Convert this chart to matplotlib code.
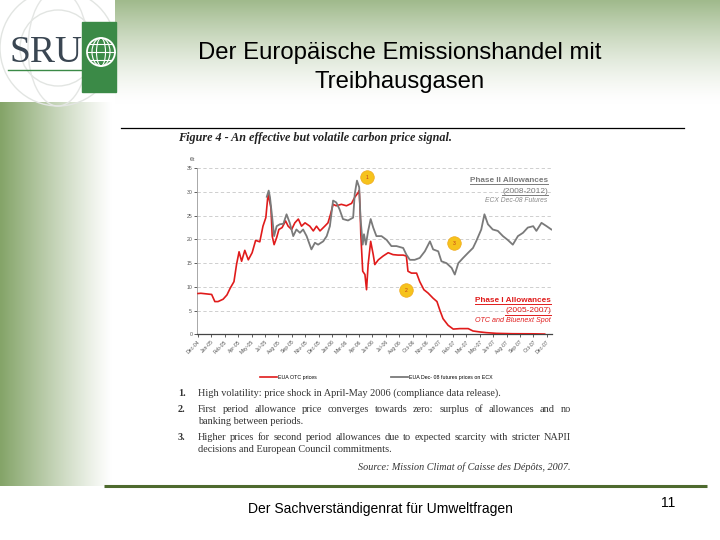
import numpy as np
import pandas as pd
import matplotlib
matplotlib.use("Agg")
import matplotlib.pyplot as plt
import matplotlib.dates as mdates
from matplotlib.patches import Rectangle, Circle, Ellipse

# ---------------- data ----------------
red_dates = ["2004-12-01","2004-12-10","2005-01-13","2005-01-23","2005-02-02","2005-02-18","2005-03-02",
             "2005-03-12","2005-03-24","2005-04-01","2005-04-09","2005-04-17","2005-04-27","2005-05-08",
             "2005-05-20","2005-05-31","2005-06-13","2005-06-23","2005-07-02","2005-07-09","2005-07-18",
             "2005-07-22","2005-07-28","2005-08-05","2005-08-12","2005-08-22","2005-09-02","2005-09-10",
             "2005-09-21","2005-10-01","2005-10-12","2005-10-22","2005-11-02","2005-11-17","2005-11-28",
             "2005-12-08","2005-12-19","2006-01-03","2006-01-13","2006-01-21","2006-01-29","2006-02-08",
             "2006-02-24","2006-03-12","2006-03-28","2006-04-07","2006-04-18","2006-04-21","2006-04-24",
             "2006-04-26","2006-05-02","2006-05-09","2006-05-14","2006-05-19","2006-05-27","2006-06-04",
             "2006-06-09","2006-06-20","2006-07-05","2006-07-21","2006-08-05","2006-08-21","2006-09-06",
             "2006-09-16","2006-09-21","2006-10-02","2006-10-18","2006-10-28","2006-11-10","2006-11-23",
             "2006-12-09","2006-12-21","2006-12-30","2007-01-09","2007-01-25","2007-02-10","2007-03-03",
             "2007-03-29","2007-04-13","2007-05-04","2007-05-25","2007-06-25","2007-08-16","2007-10-19",
             "2007-11-24"]
red_values = [8.6, 8.65, 8.4, 6.9, 6.9, 7.4, 8.3, 9.7, 11.1, 14.7, 17.4, 15.4, 17.7, 15.7, 17.2, 19.8,
              19.5, 22.8, 24.6, 29.6, 26.7, 20.7, 18.9, 20.4, 22.1, 22.5, 23.9, 22.8, 22.1, 23.5, 24.3,
              22.8, 23.5, 22.8, 21.8, 22.8, 21.8, 22.8, 23.5, 25.3, 27.4, 27.1, 27.4, 27.1, 27.6, 28.9,
              29.9, 30.3, 26.0, 21.1, 13.3, 12.6, 9.4, 14.7, 19.6, 16.8, 14.7, 15.7, 16.5, 17.2, 16.8,
              16.7, 16.7, 16.5, 13.3, 12.9, 12.9, 11.1, 9.4, 8.7, 7.6, 6.9, 5.1, 3.3, 1.9, 1.1, 1.2,
              1.2, 0.7, 0.5, 0.35, 0.2, 0.12, 0.1, 0.05]

grey_dates = ["2005-07-05","2005-07-11","2005-07-15","2005-07-22","2005-07-28","2005-08-05","2005-08-15",
              "2005-08-26","2005-09-05","2005-09-15","2005-09-26","2005-10-06","2005-10-17","2005-10-27",
              "2005-11-07","2005-11-22","2005-12-03","2005-12-13","2005-12-29","2006-01-09","2006-01-19",
              "2006-01-29","2006-02-08","2006-02-18","2006-03-01","2006-03-17","2006-04-02","2006-04-07",
              "2006-04-14","2006-04-21","2006-04-25","2006-05-02","2006-05-06","2006-05-12","2006-05-19",
              "2006-05-27","2006-06-04","2006-06-14","2006-06-30","2006-07-16","2006-07-31","2006-08-16",
              "2006-09-06","2006-09-16","2006-09-27","2006-10-12","2006-10-28","2006-11-13","2006-11-29",
              "2006-12-09","2006-12-25","2007-01-04","2007-01-20","2007-02-05","2007-02-15","2007-02-26",
              "2007-03-13","2007-03-29","2007-04-13","2007-04-23","2007-05-09","2007-05-19","2007-05-30",
              "2007-06-14","2007-06-30","2007-07-16","2007-07-31","2007-08-16","2007-09-01","2007-09-17",
              "2007-10-02","2007-10-19","2007-10-29","2007-11-14","2007-11-30","2007-12-15"]
grey_values = [29.0, 30.3, 28.9, 24.6, 20.7, 22.8, 23.2, 23.3, 25.3, 23.5, 20.7, 22.1, 21.4, 22.1, 20.7,
               17.9, 19.3, 18.9, 19.6, 20.7, 22.8, 28.2, 27.8, 26.4, 24.3, 24.0, 24.6, 29.6, 32.4, 31.0,
               24.6, 18.9, 21.1, 18.9, 21.8, 24.3, 22.5, 20.7, 20.7, 19.9, 18.6, 18.6, 18.2, 16.8, 15.7,
               15.7, 16.1, 17.5, 19.6, 17.9, 17.5, 15.4, 15.0, 14.0, 12.6, 15.0, 16.1, 17.2, 18.2, 19.6,
               22.1, 25.3, 23.2, 22.1, 21.8, 20.7, 19.9, 18.9, 20.7, 21.4, 22.5, 22.8, 21.8, 23.5, 22.8,
               22.1]

tick_labels = ["Dec-04","Jan-05","Feb-05","Apr-05","May-05","Jul-05","Aug-05","Sep-05","Nov-05",
               "Dec-05","Jan-06","Mar-06","Apr-06","Jun-06","Jul-06","Aug-06","Oct-06","Nov-06",
               "Jan-07","Feb-07","Mar-07","May-07","Jun-07","Aug-07","Sep-07","Oct-07","Dec-07"]
y_ticks = [0, 5, 10, 15, 20, 25, 30, 35]

marker_labels = ["1", "2", "3"]
marker_dates = ["2006-05-15", "2006-09-14", "2007-02-12"]
marker_values = [33.1, 9.3, 19.2]

series_names = ["EUA OTC prices", "EUA Dec- 08 futures prices on ECX"]

slide_title = ["Der Europäische Emissionshandel mit", "Treibhausgasen"]
figure_title = "Figure 4 - An effective but volatile carbon price signal."
notes = [
    ("1.", ["High volatility: price shock in April-May 2006 (compliance data release)."]),
    ("2.", ["First period allowance price converges towards zero: surplus of allowances and no",
            "banking between periods."]),
    ("3.", ["Higher prices for second period allowances due to expected scarcity with stricter NAPII",
            "decisions and European Council commitments."]),
]
source_text = "Source: Mission Climat of Caisse des Dépôts, 2007."
footer_text = "Der Sachverständigenrat für Umweltfragen"
page_number = "11"

RED = "#e01b1b"
GREY = "#7a7a7a"
GREEN_DARK = "#4e6a2e"
LOGO_GREEN = "#3b8a47"

# ---------------- figure ----------------
fig = plt.figure(figsize=(7.2, 5.4), dpi=100)
bg = fig.add_axes([0, 0, 1, 1])
bg.set_xlim(0, 720)
bg.set_ylim(540, 0)
bg.axis("off")
bg.set_zorder(0)

# top header gradient
n = 120
t = np.linspace(0, 1, n)[:, None]
top_col = np.array([160, 186, 140]) / 255.0
a = (1 - t) ** 1.4
grad = a[..., None] * top_col + (1 - a[..., None]) * 1.0
grad = np.repeat(grad, 2, axis=1)
bg.imshow(grad, extent=(115, 720, 104, 0), origin="upper", aspect="auto", zorder=0)

# left band gradient
tx = np.linspace(0, 1, n)[None, :]
left_col = np.array([132, 164, 104]) / 255.0
ax_ = (1 - tx) ** 1.1
gradl = ax_[..., None] * left_col + (1 - ax_[..., None]) * 1.0
gradl = np.repeat(gradl, 2, axis=0)
bg.imshow(gradl, extent=(0, 112, 486, 102), origin="upper", aspect="auto", zorder=0)

# logo area watermark arcs
for r in (38, 58):
    bg.add_patch(Circle((58, 48), r, fill=False, ec="#e2e5e2", lw=1.0, zorder=1))
bg.add_patch(Ellipse((58, 48), 60, 116, fill=False, ec="#e4e6e4", lw=1.0, zorder=1))

# logo: SRU text, green box with globe
bg.text(9, 62, "SRU", fontsize=27, family="Liberation Serif", color="#3a4652",
        ha="left", va="baseline", zorder=3)
bg.plot([8, 82], [70, 70], color=LOGO_GREEN, lw=1.0, zorder=3)
bg.add_patch(Rectangle((82, 22), 34, 70, color=LOGO_GREEN, zorder=3))
gc = (101, 52)
bg.add_patch(Circle(gc, 14, fill=False, ec="white", lw=1.3, zorder=4))
for w in (9, 18):
    bg.add_patch(Ellipse(gc, w, 28, fill=False, ec="white", lw=0.8, zorder=4))
for dy in (-8, 0, 8):
    half = np.sqrt(14 ** 2 - dy ** 2)
    bg.plot([gc[0] - half, gc[0] + half], [gc[1] + dy, gc[1] + dy], color="white", lw=0.8, zorder=4)

# slide title
bg.text(400, 53, slide_title[0], fontsize=17.2, family="Liberation Sans", color="black",
        ha="center", va="center", zorder=3)
bg.text(400, 82, slide_title[1], fontsize=17.2, family="Liberation Sans", color="black",
        ha="center", va="center", zorder=3)

# line under title
bg.plot([121, 684], [128, 128], color="black", lw=0.9, zorder=3)

# bottom green line
bg.plot([104, 707], [486, 486], color=GREEN_DARK, lw=2.2, zorder=3, solid_capstyle="butt")

# footer
bg.text(380, 509, footer_text, fontsize=10.0, family="Liberation Sans", color="black",
        ha="center", va="center", zorder=3)
bg.text(668, 503, page_number, fontsize=10.0, family="Liberation Sans", color="black",
        ha="center", va="center", zorder=3)

# figure title
bg.text(178, 138, figure_title, fontsize=8.7, family="Liberation Serif", fontweight="bold",
        fontstyle="italic", color="#222222", ha="left", va="center", zorder=3)

# ---------------- chart ----------------
L, R, T, B = 197, 552, 168.3, 334.3
ax = fig.add_axes([L / 720, 1 - B / 540, (R - L) / 720, (B - T) / 540])
ax.set_zorder(2)
ax.patch.set_alpha(0)

rd = pd.to_datetime(red_dates)
gd = pd.to_datetime(grey_dates)
l_red, = ax.plot(rd, red_values, color=RED, lw=1.2, solid_joinstyle="round", zorder=3)
l_grey, = ax.plot(gd, grey_values, color=GREY, lw=1.3, solid_joinstyle="round", zorder=4)

x0 = mdates.date2num(pd.Timestamp("2004-12-01"))
x1 = mdates.date2num(pd.Timestamp("2007-12-01"))
ax.set_xlim(x0 - 3, mdates.date2num(pd.Timestamp("2007-12-17")))
ax.set_ylim(0, 35)
ax.set_yticks(y_ticks)
ax.set_xticks(np.linspace(x0, x1, len(tick_labels)))
ax.set_xticklabels(tick_labels, rotation=45, ha="right", rotation_mode="anchor")
ax.tick_params(axis="x", labelsize=3.7, colors="#444444", length=2, width=0.6, pad=1.5)
ax.tick_params(axis="y", labelsize=3.7, colors="#444444", length=2, width=0.6, pad=1.5)
for lab in ax.get_xticklabels() + ax.get_yticklabels():
    lab.set_family("Liberation Sans")
    lab.set_color("#555555")
ax.grid(axis="y", color="#c8c8c8", lw=0.6, ls=(0, (4, 3)))
for s in ("top", "right"):
    ax.spines[s].set_visible(False)
ax.spines["left"].set_color("#9a9a9a")
ax.spines["left"].set_linewidth(0.6)
ax.spines["bottom"].set_color("#444444")
ax.spines["bottom"].set_linewidth(0.9)
ax.text(-0.012, 1.04, "€/t", transform=ax.transAxes, fontsize=3.4, color="#444444",
        ha="center", va="bottom", family="Liberation Sans")

# numbered circles
md = pd.to_datetime(marker_dates)
ax.scatter(md, marker_values, s=95, color="#f6c31c", edgecolors="#f0a81a", linewidths=0.5,
           zorder=6, clip_on=False)
for d, v, lab in zip(md, marker_values, marker_labels):
    ax.text(d, v, lab, fontsize=3.6, color="#c0391b", ha="center", va="center", zorder=7,
            family="Liberation Sans")

# legend
ax.legend([l_red, l_grey], series_names, loc="center", bbox_to_anchor=(0.505, -0.26), ncol=2,
          frameon=False, handlelength=3.2, columnspacing=14, handletextpad=0.3,
          prop={"family": "Liberation Sans", "size": 3.8})

fig.canvas.draw()
renderer = fig.canvas.get_renderer()
inv = bg.transData.inverted()


def underlined(txt):
    fig.canvas.draw()
    bb = txt.get_window_extent(renderer)
    (xa, ya), (xb, yb) = inv.transform([[bb.x0, bb.y0], [bb.x1, bb.y0]])
    bg.plot([xa, xb], [ya + 0.5, ya + 0.5], color=txt.get_color(), lw=0.7, zorder=5)


def ax_px(xp, yp):
    return ((xp - L) / (R - L), (B - yp) / (B - T))


# phase annotations (in axes fraction)
ph2 = ax.text(*ax_px(548, 180), "Phase II Allowances", transform=ax.transAxes, fontsize=5.9,
              fontweight="bold", color="#7a7a7a", ha="right", va="center", family="Liberation Sans")
ph2b = ax.text(*ax_px(548, 191), "(2008-2012)", transform=ax.transAxes, fontsize=6.0,
               color="#7a7a7a", ha="right", va="center", family="Liberation Sans")
ax.text(*ax_px(547, 200.5), "ECX Dec-08 Futures", transform=ax.transAxes, fontsize=4.9,
        fontstyle="italic", color="#8a8a8a", ha="right", va="center", family="Liberation Sans")
ph1 = ax.text(*ax_px(551, 300), "Phase I Allowances", transform=ax.transAxes, fontsize=5.9,
              fontweight="bold", color=RED, ha="right", va="center", family="Liberation Sans")
ph1b = ax.text(*ax_px(551, 311), "(2005-2007)", transform=ax.transAxes, fontsize=6.0,
               color=RED, ha="right", va="center", family="Liberation Sans")
ax.text(*ax_px(551, 321), "OTC and Bluenext Spot", transform=ax.transAxes, fontsize=5.1,
        fontstyle="italic", color=RED, ha="right", va="center", family="Liberation Sans")
for tx_ in (ph2, ph2b, ph1, ph1b):
    underlined(tx_)

# numbered notes (justified for multi-line items)
note_kw = dict(fontsize=7.4, family="Liberation Serif", color="#333333", va="center", zorder=3)
line_y = [[393], [410, 421.5], [438, 450]]
x_start, x_end = 198, 571
for (num, lines), ys in zip(notes, line_y):
    bg.text(178, ys[0], num, fontweight="bold", ha="left", **note_kw)
    for i, (line, y) in enumerate(zip(lines, ys)):
        last = i == len(lines) - 1
        if last or len(lines) == 1:
            bg.text(x_start, y, line, ha="left", **note_kw)
        else:
            words = line.split()
            tws = [bg.text(0, y, w, ha="left", **note_kw) for w in words]
            fig.canvas.draw()
            widths = [tw.get_window_extent(renderer).width for tw in tws]
            gap = (x_end - x_start - sum(widths)) / (len(words) - 1)
            xx = x_start
            for tw, wdt in zip(tws, widths):
                tw.set_x(xx)
                xx += wdt + gap

bg.text(571, 467, source_text, fontsize=7.3, family="Liberation Serif", fontstyle="italic",
        color="#333333", ha="right", va="center", zorder=3)

fig.savefig("out.png", dpi=100)
